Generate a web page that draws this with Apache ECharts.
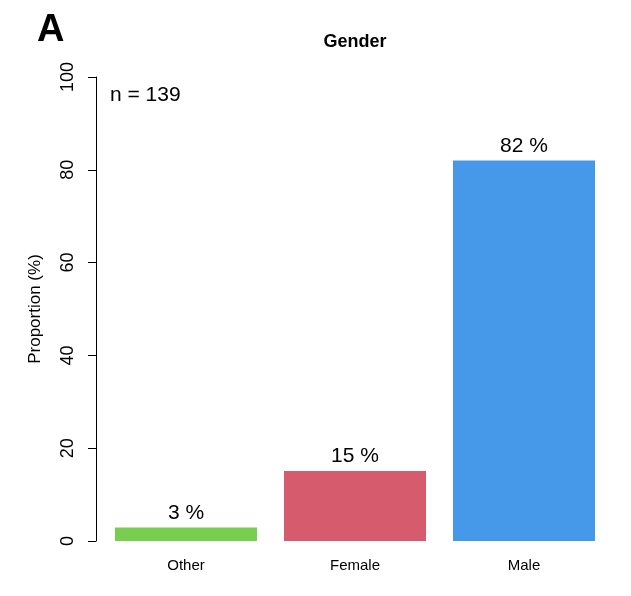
<!DOCTYPE html>
<html>
<head>
<meta charset="utf-8">
<script src="https://cdn.jsdelivr.net/npm/echarts@6/dist/echarts.min.js"></script>
<style>
  html, body { margin: 0; padding: 0; background: #ffffff; }
  #chart { width: 631px; height: 596px; }
</style>
</head>
<body>
<div id="chart"></div>
<script>
const categories = ['Other', 'Female', 'Male'];
const proportions = [2.9, 15.1, 82.0];
const barColors = ['#77CE4F', '#D55B6D', '#4599E8'];
const yTicks = [0, 20, 40, 60, 80, 100];
const sampleSize = 139;

const FONT = '"Liberation Sans", Arial, Helvetica, sans-serif';

const chart = echarts.init(document.getElementById('chart'), null, { renderer: 'canvas' });

chart.setOption({
  backgroundColor: '#ffffff',
  animation: false,
  grid: { left: 101.5, right: 22.5, top: 77, bottom: 55, containLabel: false },
  xAxis: {
    type: 'category',
    data: categories,
    axisLine: { show: false },
    axisTick: { show: false },
    axisLabel: { color: '#000', fontFamily: FONT, fontSize: 15, margin: 17 }
  },
  yAxis: {
    type: 'value',
    min: yTicks[0],
    max: yTicks[yTicks.length - 1],
    interval: yTicks[1] - yTicks[0],
    offset: 5.5,
    name: 'Proportion (%)',
    nameLocation: 'middle',
    nameGap: 52,
    nameTextStyle: { color: '#000', fontFamily: FONT, fontSize: 17 },
    splitLine: { show: false },
    axisLine: { show: true, lineStyle: { color: '#000', width: 1 } },
    axisTick: { show: true, inside: false, length: 8, lineStyle: { color: '#000', width: 1 } },
    axisLabel: { color: '#000', fontFamily: FONT, fontSize: 18, rotate: 90, margin: 19 }
  },
  series: [{
    type: 'bar',
    barWidth: 142,
    data: proportions.map((v, i) => ({ value: v, itemStyle: { color: barColors[i] } })),
    label: {
      show: true,
      position: 'top',
      distance: 4,
      color: '#000',
      fontFamily: FONT,
      fontSize: 21,
      formatter: p => Math.round(p.value) + ' %'
    }
  }],
  graphic: [
    { type: 'text', left: 37, top: 12, style: { text: 'A', font: 'bold 38px ' + FONT, fill: '#000' } },
    { type: 'text', x: 355, y: 42, style: { text: 'Gender', font: 'bold 18px ' + FONT, fill: '#000', textAlign: 'center', textVerticalAlign: 'middle' } },
    { type: 'text', x: 110, y: 95, style: { text: 'n = ' + sampleSize, font: '21px ' + FONT, fill: '#000', textAlign: 'left', textVerticalAlign: 'middle' } }
  ]
});
</script>
</body>
</html>
